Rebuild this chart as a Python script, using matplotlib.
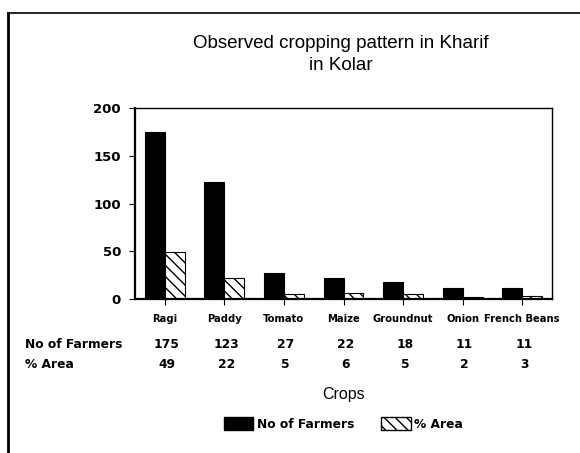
import matplotlib
matplotlib.use("Agg")
import matplotlib.pyplot as plt
import matplotlib.transforms as mtransforms
from matplotlib.lines import Line2D
from matplotlib.patches import Patch
import numpy as np

crops = ["Ragi", "Paddy", "Tomato", "Maize", "Groundnut", "Onion", "French Beans"]
farmers = [175, 123, 27, 22, 18, 11, 11]
area = [49, 22, 5, 6, 5, 2, 3]
series_names = ["No of Farmers", "% Area"]
yticks = [0, 50, 100, 150, 200]

plt.rcParams['hatch.linewidth'] = 1.0
fig = plt.figure(figsize=(5.8, 4.53), dpi=100)
ax = fig.add_axes([135/580, 1-299/453, (552-135)/580, (299-108)/453])

x = np.arange(len(crops))
w = 0.335
ax.bar(x - w/2, farmers, width=w, color="black", edgecolor="black", linewidth=0.8, label=series_names[0])
ax.bar(x + w/2, area, width=w, color="white", edgecolor="black", hatch="\\\\\\", linewidth=0.8, label=series_names[1])

ax.set_xlim(-0.5, len(crops) - 0.5)
ax.set_ylim(0, 200)
ax.set_yticks(yticks)
ax.set_yticklabels([str(v) for v in yticks], fontsize=9.5, fontweight="bold")
ax.set_xticks(x)
ax.set_xticklabels(crops, fontsize=7.2, fontweight="bold")
ax.tick_params(axis="x", length=4, width=0.8, pad=7, direction="out")
ax.tick_params(axis="y", length=4, width=0.8, pad=6, direction="out")
for s in ["left", "bottom"]:
    ax.spines[s].set_linewidth(1.6)
for s in ["top", "right"]:
    ax.spines[s].set_linewidth(1.0)

# table rows below the axis
trans = mtransforms.blended_transform_factory(ax.transData, fig.transFigure)
y_row1 = 1 - 345/453
y_row2 = 1 - 364/453
for xi, f, a in zip(x, farmers, area):
    ax.text(xi + 0.03, y_row1, str(f), transform=trans, ha="center", va="center", fontsize=8.8, fontweight="bold")
    ax.text(xi + 0.03, y_row2, str(a), transform=trans, ha="center", va="center", fontsize=8.8, fontweight="bold")
fig.text(25/580, y_row1, series_names[0], ha="left", va="center", fontsize=8.8, fontweight="bold")
fig.text(25/580, y_row2, series_names[1], ha="left", va="center", fontsize=8.8, fontweight="bold")

cx = (135 + 552) / 2 / 580
fig.text(cx, 1 - 395/453, "Crops", ha="center", va="center", fontsize=11.5, family="Liberation Sans")

fig.text(cx - 0.005, 1 - 44/453, "Observed cropping pattern in Kharif", ha="center", va="center",
         fontsize=13.5, family="Liberation Sans")
fig.text(cx - 0.005, 1 - 66/453, "in Kolar", ha="center", va="center", fontsize=13.5, family="Liberation Sans")

handles = [Patch(facecolor="black", edgecolor="black", label=series_names[0]),
           Patch(facecolor="white", edgecolor="black", hatch="\\\\\\", label=series_names[1])]
fig.legend(handles=handles, loc="center", bbox_to_anchor=(cx, 1 - 424/453), ncol=2, frameon=False,
           prop={"size": 8.8, "weight": "bold"}, handlelength=2.4, handleheight=1.2, columnspacing=2.2,
           handletextpad=0.3)

# page border lines
fig.add_artist(Line2D([8/580, 8/580], [0, 1 - 13/453], transform=fig.transFigure, color="black", linewidth=2))
fig.add_artist(Line2D([8/580, 1.0], [1 - 13/453, 1 - 13/453], transform=fig.transFigure, color="black", linewidth=1.2))

fig.savefig("out.png", dpi=100)
